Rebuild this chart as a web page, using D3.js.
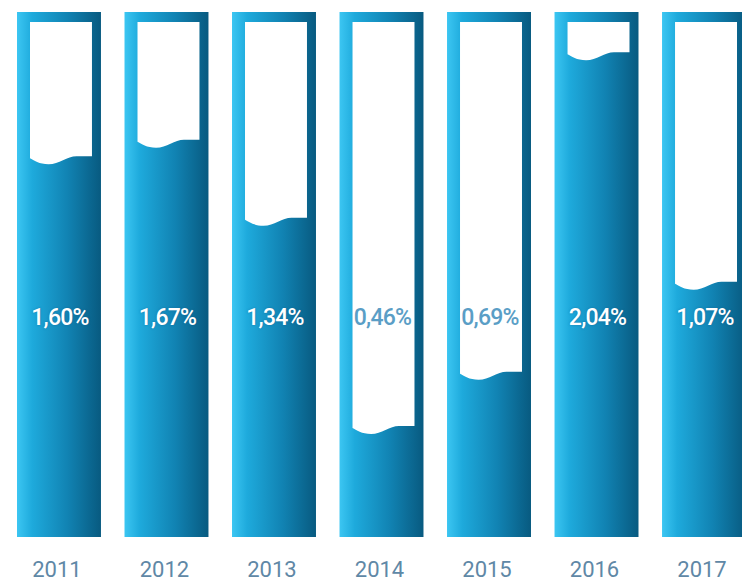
<!DOCTYPE html>
<html>
<head>
<meta charset="utf-8">
<title>Tubes</title>
<style>
body { margin: 0; background: #fff; }
svg text { font-family: Roboto, "Noto Sans", sans-serif; }
</style>
</head>
<body>
<svg id="chart" width="742" height="583"></svg>
<script src="https://cdn.jsdelivr.net/npm/d3@7"></script>
<script>
// data
var years = ["2011", "2012", "2013", "2014", "2015", "2016", "2017"];
var values = [1.60, 1.67, 1.34, 0.46, 0.69, 2.04, 1.07];
var labels = ["1,60%", "1,67%", "1,34%", "0,46%", "0,69%", "2,04%", "1,07%"];

var svg = d3.select("#chart");
var TOP = 12, BOTTOM = 537, INNER_TOP = 22, LABEL_Y = 325;

var x = d3.scaleBand().domain(years).range([17, 746]).paddingInner(0.219).paddingOuter(0);
var y = d3.scaleLinear().domain([0, 2.18]).range([538, INNER_TOP]);

// tube gradient, light cyan on the left to dark blue on the right
var grad = svg.append("defs").append("linearGradient").attr("id", "tube")
  .attr("x1", "0%").attr("x2", "100%").attr("y1", "0%").attr("y2", "0%");
grad.append("stop").attr("offset", "0%").attr("stop-color", "#3cc6f2");
grad.append("stop").attr("offset", "18%").attr("stop-color", "#1eaadc");
grad.append("stop").attr("offset", "60%").attr("stop-color", "#1183b3");
grad.append("stop").attr("offset", "100%").attr("stop-color", "#085a80");

var data = years.map(function(d, i) { return { year: d, v: values[i], label: labels[i] }; });

var g = svg.selectAll("g.bar").data(data).enter().append("g").attr("class", "bar");

g.append("rect")
  .attr("x", function(d) { return x(d.year); })
  .attr("y", TOP)
  .attr("width", x.bandwidth())
  .attr("height", BOTTOM - TOP)
  .attr("fill", "url(#tube)");

// white empty part of the tube with a wavy liquid surface
g.append("path")
  .attr("fill", "#fff")
  .attr("d", function(d) {
    var x0 = x(d.year) + 13, w = x.bandwidth() - 22, x1 = x0 + w, L = y(d.v);
    return "M" + x0 + "," + INNER_TOP + "L" + x1 + "," + INNER_TOP +
      "L" + x1 + "," + (L - 3) +
      "L" + (x0 + 0.75 * w) + "," + (L - 3) +
      "C" + (x0 + 0.6 * w) + "," + (L - 3) + " " + (x0 + 0.47 * w) + "," + (L + 5) + " " + (x0 + 0.3 * w) + "," + (L + 5) +
      "C" + (x0 + 0.15 * w) + "," + (L + 5) + " " + (x0 + 0.06 * w) + "," + (L + 1) + " " + x0 + "," + (L - 1) + "Z";
  });

g.append("text")
  .attr("x", function(d) { return x(d.year) + x.bandwidth() / 2 + 1; })
  .attr("y", LABEL_Y)
  .attr("text-anchor", "middle")
  .attr("font-size", 23)
  .attr("font-weight", 500)
  .attr("letter-spacing", -0.8)
  .attr("fill", function(d) { return y(d.v) < LABEL_Y - 20 ? "#ffffff" : "#5a9ec6"; })
  .style("text-shadow", function(d) { return y(d.v) < LABEL_Y - 20 ? "0 0 2px rgba(20,90,140,0.6)" : "none"; })
  .text(function(d) { return d.label; });

g.append("text")
  .attr("x", function(d) { return x(d.year) + x.bandwidth() / 2 - 2; })
  .attr("y", 577)
  .attr("text-anchor", "middle")
  .attr("font-size", 22)
  .attr("fill", "#5f88a6")
  .text(function(d) { return d.year; });
</script>
</body>
</html>
